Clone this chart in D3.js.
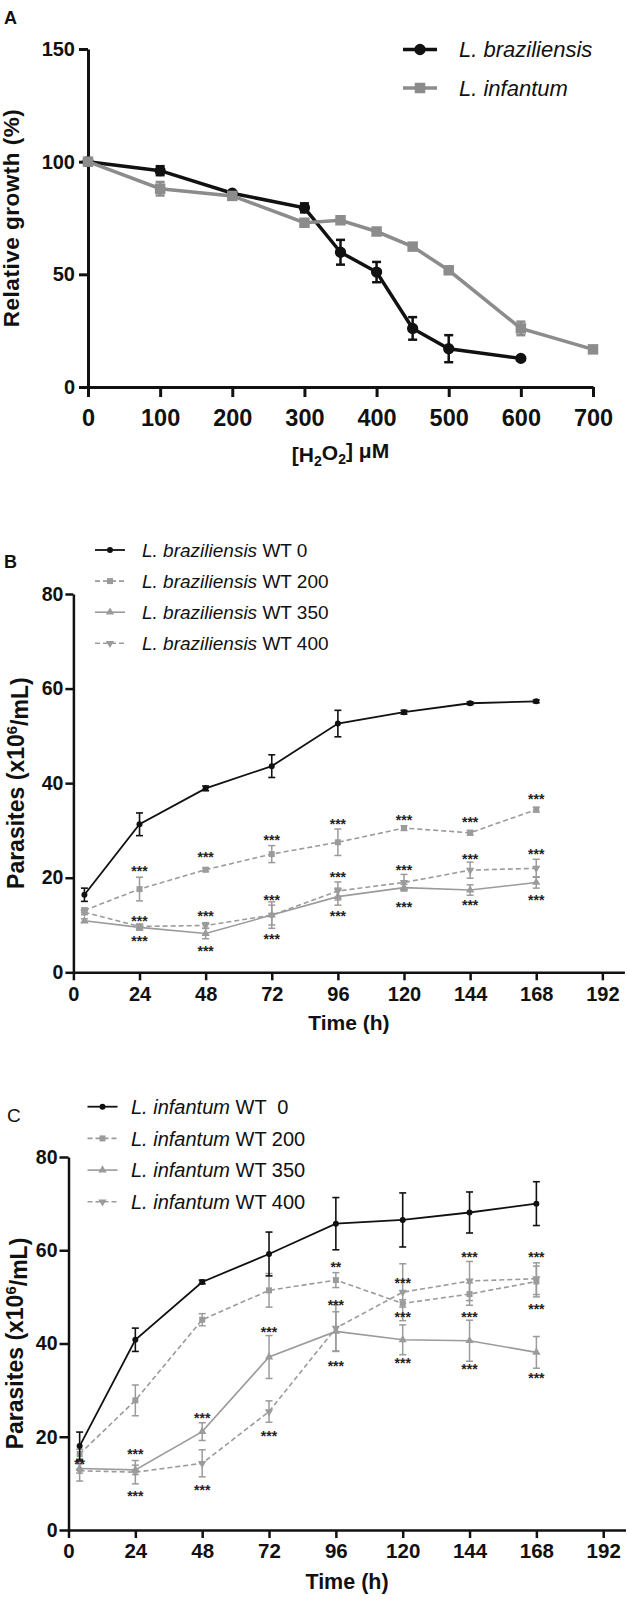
<!DOCTYPE html>
<html>
<head>
<meta charset="utf-8">
<script src="https://cdn.jsdelivr.net/npm/d3@7"></script>
<style>
body { margin: 0; background: #fff; }
svg text { font-family: 'Liberation Sans', Arial, Helvetica, sans-serif; }
</style>
</head>
<body>
<div class="chart"></div>
<script>
// ---- panel A : growth vs H2O2 ----
const doseBraz = [0, 100, 200, 300, 350, 400, 450, 500, 600];
const growthBraz = [100, 96, 86, 79.5, 59.8, 51, 26, 17, 12.7];
const errBraz = [0, 2, 0, 2, 5.5, 4.5, 5, 6, 0];
const doseInf = [0, 100, 200, 300, 350, 400, 450, 500, 600, 700];
const growthInf = [100, 88, 84.8, 72.9, 74, 69, 62.3, 51.8, 26, 16.7];
const errInf = [0, 3, 1, 1, 1, 1, 1, 1, 3, 0];
const doseTicks = [0, 100, 200, 300, 400, 500, 600, 700];
const growthTicks = [0, 50, 100, 150];
const legendA = ["L. braziliensis", "L. infantum"];

// ---- panels B and C : growth curves ----
const timeH = [4, 24, 48, 72, 96, 120, 144, 168];
const timeTicks = [0, 24, 48, 72, 96, 120, 144, 168, 192];
const parTicks = [0, 20, 40, 60, 80];
const doseLabels = ["WT 0", "WT 200", "WT 350", "WT 400"];
const doseLabelsC = ["WT  0", "WT 200", "WT 350", "WT 400"];

const bWT0 = [16.4, 31.3, 38.9, 43.6, 52.6, 55.0, 56.9, 57.3];
const bWT0err = [1.4, 2.4, 0.5, 2.4, 2.8, 0.4, 0.3, 0.3];
const bWT200 = [13.1, 17.6, 21.7, 25.0, 27.5, 30.5, 29.5, 34.4];
const bWT200err = [0.5, 2.5, 0.4, 1.8, 2.8, 0.5, 0.5, 0.5];
const bWT350 = [10.9, 9.5, 8.2, 12.1, 16.0, 17.9, 17.4, 19.0];
const bWT350err = [0.4, 0.6, 1.1, 2.8, 1.8, 0.7, 1.1, 1.2];
const bWT400 = [12.7, 9.7, 9.9, 12.1, 17.2, 19.0, 21.6, 22.0];
const bWT400err = [0.5, 0.5, 0.6, 2.1, 1.9, 1.7, 1.7, 1.9];
const sigB = [[24, 22.0, "***"], [24, 11.4, "***"], [24, 7.3, "***"],
  [48, 25.0, "***"], [48, 12.5, "***"], [48, 5.1, "***"],
  [72, 28.6, "***"], [72, 15.9, "***"], [72, 7.6, "***"],
  [96, 32.1, "***"], [96, 20.7, "***"], [96, 12.6, "***"],
  [120, 32.9, "***"], [120, 22.3, "***"], [120, 14.4, "***"],
  [144, 32.4, "***"], [144, 24.5, "***"], [144, 14.9, "***"],
  [168, 37.2, "***"], [168, 25.7, "***"], [168, 16.0, "***"]];

const cWT0 = [18.0, 40.8, 53.2, 59.2, 65.7, 66.5, 68.1, 70.0];
const cWT0err = [3.0, 2.5, 0.4, 4.7, 5.6, 5.8, 4.4, 4.7];
const cWT200 = [16.3, 27.8, 45.1, 51.4, 53.6, 48.6, 50.6, 53.3];
const cWT200err = [1.0, 3.3, 1.3, 3.6, 1.6, 0.8, 2.4, 3.3];
const cWT350 = [13.2, 12.9, 21.1, 37.1, 42.6, 40.8, 40.6, 38.1];
const cWT350err = [1.0, 1.0, 1.9, 4.6, 4.2, 3.2, 4.4, 3.4];
const cWT400 = [12.7, 12.4, 14.3, 25.4, 43.3, 51.0, 53.4, 53.9];
const cWT400err = [2.2, 2.5, 2.9, 2.3, 5.0, 6.1, 4.2, 3.4];
const sigC = [[4, 14.8, "**"], [24, 17.0, "***"], [24, 8.0, "***"],
  [48, 24.7, "***"], [48, 9.2, "***"], [72, 43.1, "***"], [72, 20.9, "***"],
  [96, 57.1, "**"], [96, 49.0, "***"], [96, 35.9, "***"],
  [120, 53.6, "***"], [120, 46.3, "***"], [120, 36.5, "***"],
  [144, 59.2, "***"], [144, 46.3, "***"], [144, 35.2, "***"],
  [168, 59.2, "***"], [168, 48.1, "***"], [168, 33.3, "***"]];

const black = "#111";
const grayA = "#8c8c8c";
const gray = "#9b9b9b";

const svg = d3.select(".chart")
	.append("svg")
	.attr("width", 629)
	.attr("height", 1614);

svg.append("rect").attr("width", 629).attr("height", 1614).attr("fill", "#fff");

function styleAxis(g, lw, fs) {
	g.select(".domain").attr("stroke", black).attr("stroke-width", lw);
	g.selectAll(".tick line").attr("stroke", black).attr("stroke-width", lw);
	g.selectAll(".tick text")
		.attr("fill", black)
		.style("font-size", fs + "px")
		.style("font-weight", "bold");
}

function drawSeries(g, x, y, xs, vs, es, o) {
	const pts = vs.map((v, i) => ({ t: xs[i], v: v, e: es[i] }));
	g.append("path")
		.datum(pts)
		.attr("d", d3.line().x(d => x(d.t)).y(d => y(d.v)))
		.attr("fill", "none")
		.attr("stroke", o.color)
		.attr("stroke-width", o.lw)
		.attr("stroke-dasharray", o.dash || null);

	const eb = g.append("g")
		.attr("stroke", o.color)
		.attr("stroke-width", o.elw)
		.selectAll("g")
		.data(pts.filter(d => d.e > 0))
		.join("g");
	eb.append("line")
		.attr("x1", d => x(d.t)).attr("x2", d => x(d.t))
		.attr("y1", d => y(d.v - d.e)).attr("y2", d => y(d.v + d.e));
	eb.append("line")
		.attr("x1", d => x(d.t) - o.cap / 2).attr("x2", d => x(d.t) + o.cap / 2)
		.attr("y1", d => y(d.v + d.e)).attr("y2", d => y(d.v + d.e));
	eb.append("line")
		.attr("x1", d => x(d.t) - o.cap / 2).attr("x2", d => x(d.t) + o.cap / 2)
		.attr("y1", d => y(d.v - d.e)).attr("y2", d => y(d.v - d.e));

	g.append("g")
		.selectAll("path")
		.data(pts)
		.join("path")
		.attr("transform", d => "translate(" + x(d.t) + "," + y(d.v) + ")" + (o.flip ? " rotate(180)" : ""))
		.attr("d", d3.symbol().type(o.sym).size(o.size))
		.attr("fill", o.color);
}

function legendRow(g, x0, x1, yy, o, textX, italicPart, rest, fs) {
	const row = g.append("g");
	row.append("line")
		.attr("x1", x0).attr("x2", x1).attr("y1", yy).attr("y2", yy)
		.attr("stroke", o.color).attr("stroke-width", o.lw)
		.attr("stroke-dasharray", o.dash || null);
	row.append("path")
		.attr("transform", "translate(" + (x0 + x1) / 2 + "," + yy + ")" + (o.flip ? " rotate(180)" : ""))
		.attr("d", d3.symbol().type(o.sym).size(o.size))
		.attr("fill", o.color);
	const t = row.append("text")
		.attr("x", textX).attr("y", yy).attr("dy", "0.36em")
		.attr("fill", black)
		.style("font-size", fs + "px")
		.style("white-space", "pre");
	t.append("tspan").style("font-style", "italic").text(italicPart);
	if (rest) t.append("tspan").text(" " + rest);
}

function parasiteTitle(cx, cy) {
	const t = svg.append("text")
		.attr("transform", "translate(" + cx + "," + cy + ") rotate(-90)")
		.attr("text-anchor", "middle")
		.attr("fill", black)
		.style("font-size", "23px")
		.style("font-weight", "bold");
	t.append("tspan").text("Parasites (x10");
	t.append("tspan").attr("dy", "-0.45em").style("font-size", "15px").text("6");
	t.append("tspan").attr("dy", "0.45em").text("/mL)");
}

function stars(g, x, y, data) {
	g.append("g")
		.selectAll("text")
		.data(data)
		.join("text")
		.attr("x", d => x(d[0]))
		.attr("y", d => y(d[1]) + 8)
		.attr("text-anchor", "middle")
		.attr("fill", "#222")
		.style("font-size", "14px")
		.style("font-weight", "bold")
		.text(d => d[2]);
}

// ================= A =================
const xA = d3.scaleLinear().domain([0, 700]).range([88, 593]);
const yA = d3.scaleLinear().domain([0, 150]).range([387, 49]);

svg.append("g")
	.attr("transform", "translate(0," + yA(0) + ")")
	.call(d3.axisBottom(xA).tickValues(doseTicks).tickSize(10).tickSizeOuter(0).tickPadding(12))
	.call(g => styleAxis(g, 3, 23.5));
svg.append("g")
	.attr("transform", "translate(" + xA(0) + ",0)")
	.call(d3.axisLeft(yA).tickValues(growthTicks).tickSize(9).tickSizeOuter(0).tickPadding(4))
	.call(g => styleAxis(g, 3, 20));

const optBraz = { color: black, lw: 3.5, elw: 2.5, cap: 9, sym: d3.symbolCircle, size: 100 };
const optInf = { color: grayA, lw: 3.5, elw: 2.5, cap: 9, sym: d3.symbolSquare, size: 110 };
const gA = svg.append("g");
drawSeries(gA, xA, yA, doseBraz, growthBraz, errBraz, optBraz);
drawSeries(gA, xA, yA, doseInf, growthInf, errInf, optInf);

legendRow(svg, 403, 437, 49.5, optBraz, 459, legendA[0], null, 22);
legendRow(svg, 403, 437, 88, optInf, 459, legendA[1], null, 22);

svg.append("text")
	.attr("transform", "translate(19," + (yA(0) + yA(150)) / 2 + ") rotate(-90)")
	.attr("text-anchor", "middle")
	.attr("fill", black)
	.style("font-size", "22.5px")
	.style("font-weight", "bold")
	.style("letter-spacing", "0.5px")
	.text("Relative growth (%)");

const hLab = svg.append("text")
	.attr("x", (xA(0) + xA(700)) / 2).attr("y", 462)
	.attr("text-anchor", "middle")
	.attr("fill", black)
	.style("font-size", "21px")
	.style("font-weight", "bold");
hLab.append("tspan").text("[H");
hLab.append("tspan").attr("dy", "0.3em").style("font-size", "14px").text("2");
hLab.append("tspan").attr("dy", "-0.3em").text("O");
hLab.append("tspan").attr("dy", "0.3em").style("font-size", "14px").text("2");
hLab.append("tspan").attr("dy", "-0.3em").text("] \u03bcM");

svg.append("text").attr("x", 4).attr("y", 24)
	.attr("fill", black).style("font-size", "18px").style("font-weight", "bold").text("A");

// ================= B =================
const xB = d3.scaleLinear().domain([0, 200]).range([73.4, 624.4]);
const yB = d3.scaleLinear().domain([0, 80]).range([972.3, 594]);

svg.append("g")
	.attr("transform", "translate(0," + yB(0) + ")")
	.call(d3.axisBottom(xB).tickValues(timeTicks).tickSize(8).tickSizeOuter(0).tickPadding(7))
	.call(g => styleAxis(g, 2.5, 20));
svg.append("g")
	.attr("transform", "translate(" + xB(0) + ",0)")
	.call(d3.axisLeft(yB).tickValues(parTicks).tickSize(8).tickSizeOuter(0).tickPadding(2))
	.call(g => styleAxis(g, 2.5, 19.5));

const opt0 = { color: black, lw: 1.8, elw: 1.6, cap: 7, sym: d3.symbolCircle, size: 28 };
const opt200 = { color: gray, lw: 1.6, elw: 1.5, cap: 7, sym: d3.symbolSquare, size: 36, dash: "5,3" };
const opt350 = { color: gray, lw: 1.6, elw: 1.5, cap: 7, sym: d3.symbolTriangle, size: 30 };
const opt400 = { color: gray, lw: 1.6, elw: 1.5, cap: 7, sym: d3.symbolTriangle, size: 30, dash: "5,3", flip: true };

const gB = svg.append("g");
drawSeries(gB, xB, yB, timeH, bWT350, bWT350err, opt350);
drawSeries(gB, xB, yB, timeH, bWT400, bWT400err, opt400);
drawSeries(gB, xB, yB, timeH, bWT200, bWT200err, opt200);
drawSeries(gB, xB, yB, timeH, bWT0, bWT0err, opt0);
stars(gB, xB, yB, sigB);

[opt0, opt200, opt350, opt400].forEach((o, i) => {
	legendRow(svg, 95, 125, 550 + i * 31.1, o, 142, "L. braziliensis", doseLabels[i], 19);
});

parasiteTitle(24, (yB(0) + yB(80)) / 2);

svg.append("text")
	.attr("x", (xB(0) + xB(200)) / 2).attr("y", 1030)
	.attr("text-anchor", "middle")
	.attr("fill", black)
	.style("font-size", "21px")
	.style("font-weight", "bold")
	.text("Time (h)");

svg.append("text").attr("x", 4).attr("y", 568)
	.attr("fill", black).style("font-size", "18px").style("font-weight", "bold").text("B");

// ================= C =================
const xC = d3.scaleLinear().domain([0, 200]).range([68.5, 625.5]);
const yC = d3.scaleLinear().domain([0, 80]).range([1530, 1157]);

svg.append("g")
	.attr("transform", "translate(0," + yC(0) + ")")
	.call(d3.axisBottom(xC).tickValues(timeTicks).tickSize(8).tickSizeOuter(0).tickPadding(5))
	.call(g => styleAxis(g, 2.5, 20.5));
svg.append("g")
	.attr("transform", "translate(" + xC(0) + ",0)")
	.call(d3.axisLeft(yC).tickValues(parTicks).tickSize(9).tickSizeOuter(0).tickPadding(2))
	.call(g => styleAxis(g, 2.5, 19.5));

const gC = svg.append("g");
drawSeries(gC, xC, yC, timeH, cWT350, cWT350err, opt350);
drawSeries(gC, xC, yC, timeH, cWT400, cWT400err, opt400);
drawSeries(gC, xC, yC, timeH, cWT200, cWT200err, opt200);
drawSeries(gC, xC, yC, timeH, cWT0, cWT0err, opt0);
stars(gC, xC, yC, sigC);

[opt0, opt200, opt350, opt400].forEach((o, i) => {
	legendRow(svg, 87.5, 117.5, 1106.7 + i * 31.7, o, 131, "L. infantum", doseLabelsC[i], 20);
});

parasiteTitle(23, (yC(0) + yC(80)) / 2);

svg.append("text")
	.attr("x", (xC(0) + xC(200)) / 2).attr("y", 1589)
	.attr("text-anchor", "middle")
	.attr("fill", black)
	.style("font-size", "21.5px")
	.style("font-weight", "bold")
	.text("Time (h)");

svg.append("text").attr("x", 7).attr("y", 1121.5)
	.attr("fill", black).style("font-size", "19px").text("C");
</script>
</body>
</html>
